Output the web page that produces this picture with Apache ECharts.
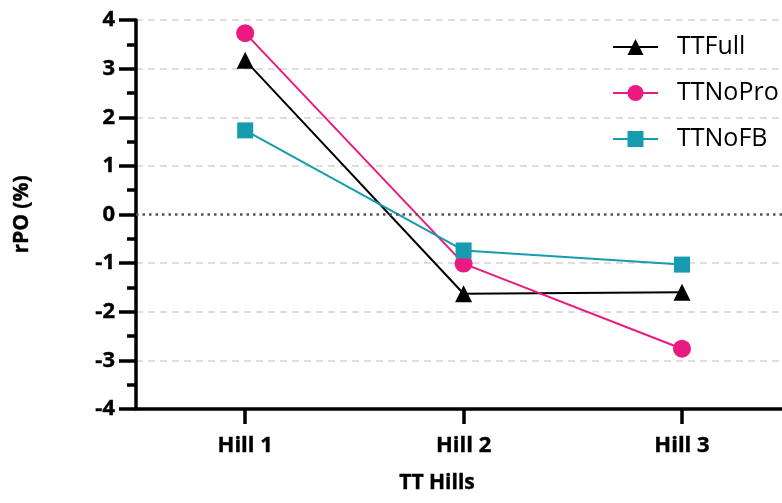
<!DOCTYPE html>
<html>
<head>
<meta charset="utf-8">
<script src="https://cdn.jsdelivr.net/npm/echarts@6/dist/echarts.min.js"></script>
<style>html,body{margin:0;padding:0;background:#fff}#c{width:782px;height:503px}</style>
</head>
<body>
<div id="c"></div>
<script>
const categories = ['Hill 1', 'Hill 2', 'Hill 3'];
const ttFull = [3.17, -1.63, -1.60];
const ttNoPro = [3.73, -1.01, -2.76];
const ttNoFB = [1.73, -0.74, -1.03];
const yTicks = [-4, -3, -2, -1, 0, 1, 2, 3, 4];
const seriesNames = ['TTFull', 'TTNoPro', 'TTNoFB'];

const FONT = '"Open Sans", sans-serif';
const chart = echarts.init(document.getElementById('c'), null, {renderer: 'canvas'});

const catPos = categories.map((c, i) => i + 1);
const pts = arr => arr.map((v, i) => [catPos[i], v]);

function mkSeries(name, data, color, symbol, size, extra) {
  const s = {
    name: name, type: 'line', data: pts(data),
    symbol: symbol, symbolSize: size,
    lineStyle: {color: color, width: 2},
    itemStyle: {color: color},
    z: 3
  };
  return Object.assign(s, extra || {});
}

const boldText = {fontFamily: FONT, fontWeight: 'bold', color: '#000', textBorderColor: '#000', textBorderWidth: 0.4};

const option = {
  animation: false,
  backgroundColor: '#fff',
  grid: {left: 136, right: 0, top: 20, bottom: 94},
  legend: {
    orient: 'vertical', left: 607, top: 29,
    itemWidth: 45, itemHeight: 20, itemGap: 20,
    textStyle: {fontFamily: FONT, fontSize: 25, color: '#000', lineHeight: 26, padding: [0, 0, 0, 14]},
    data: seriesNames
  },
  xAxis: {
    type: 'value', min: 0.5, max: 3.458,
    axisLine: {onZero: false, lineStyle: {color: '#000', width: 3.5}},
    axisTick: {show: true, customValues: catPos, length: 15, lineStyle: {color: '#000', width: 3.5}},
    axisLabel: Object.assign({customValues: catPos, fontSize: 22, margin: 26,
      formatter: v => categories[Math.round(v) - 1] || ''}, boldText),
    splitLine: {show: false}
  },
  yAxis: {
    type: 'value', min: -4, max: 4, interval: 1,
    name: 'rPO (%)', nameLocation: 'middle', nameGap: 103, nameRotate: 90,
    nameTextStyle: Object.assign({fontSize: 21}, boldText),
    axisLine: {show: true, lineStyle: {color: '#000', width: 3.5}},
    axisTick: {show: true, length: 17, lineStyle: {color: '#000', width: 3.5}},
    minorTick: {show: true, splitNumber: 2, length: 9, lineStyle: {color: '#000', width: 3.5}},
    axisLabel: Object.assign({fontSize: 22, margin: 21,
      formatter: v => yTicks.indexOf(v) >= 0 ? String(v) : ''}, boldText),
    splitLine: {show: true, lineStyle: {
      color: ['#d4d4d4','#d4d4d4','#d4d4d4','#d4d4d4','rgba(0,0,0,0)','#d4d4d4','#d4d4d4','#d4d4d4','#d4d4d4'],
      type: [7, 5], width: 1.5}}
  },
  graphic: [{
    type: 'text', x: 437, y: 483,
    style: {text: 'TT Hills', font: 'bold 21px ' + FONT, fill: '#000', stroke: '#000', lineWidth: 0.4,
      align: 'center', verticalAlign: 'middle'}
  }],
  series: [
    mkSeries('TTFull', ttFull, '#000000', 'triangle', 17, {
      markLine: {
        silent: true, symbol: 'none', label: {show: false},
        lineStyle: {color: '#555', type: [2.5, 4], width: 2.5},
        data: [{yAxis: 0}]
      }
    }),
    mkSeries('TTNoPro', ttNoPro, '#EA1A80', 'circle', 18),
    mkSeries('TTNoFB', ttNoFB, '#179BAF', 'rect', 16)
  ]
};
chart.setOption(option);
</script>
</body>
</html>
